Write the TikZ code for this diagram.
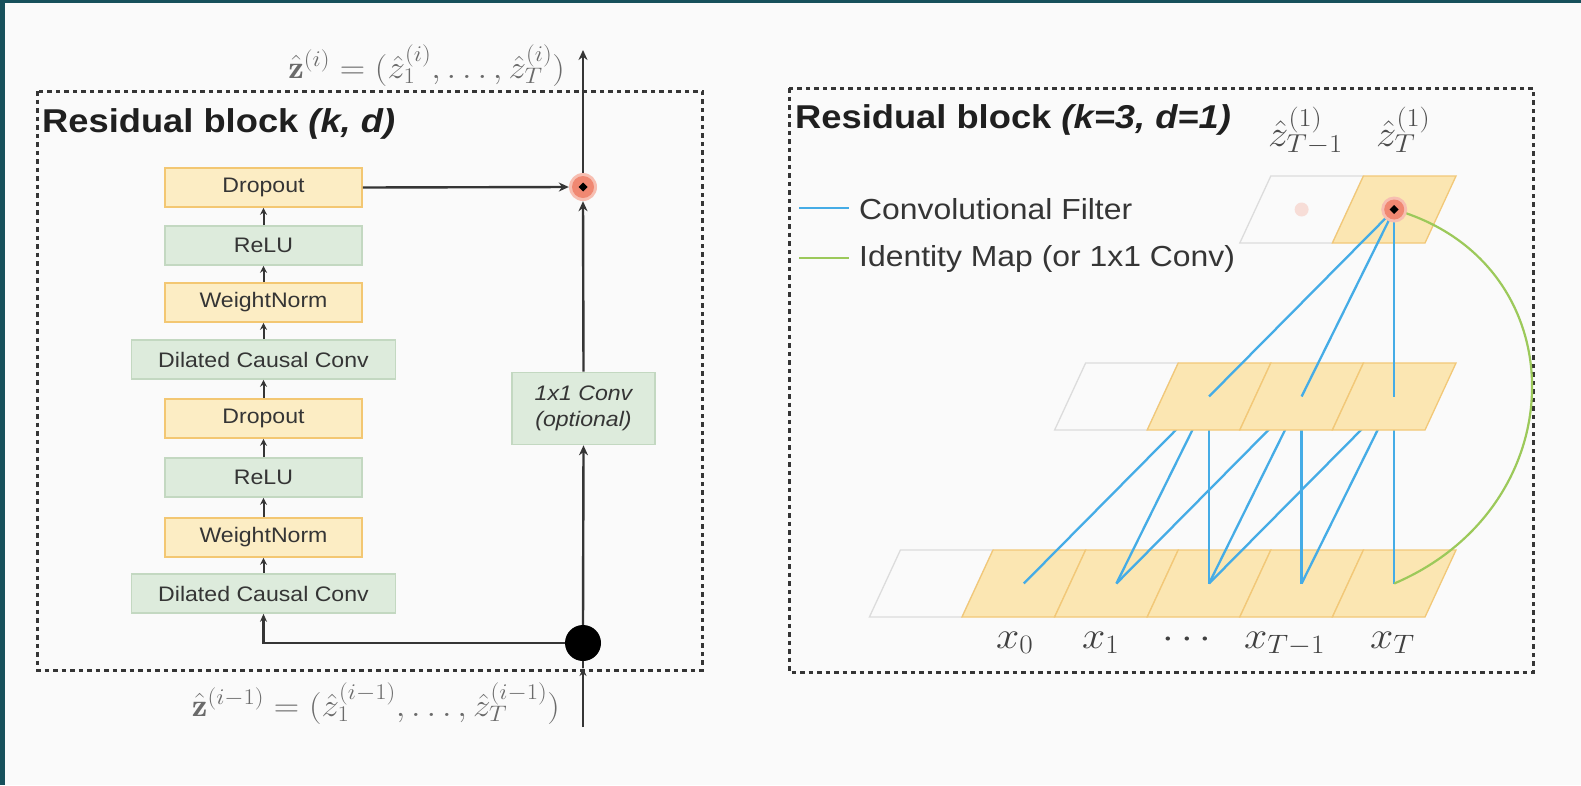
\RequirePackage{fix-cm}
\documentclass[tikz,border=0pt]{standalone}
\usepackage{fontspec}
\usepackage{graphicx}
\usetikzlibrary{arrows.meta}
\newfontfamily\hv{Liberation Sans}

\definecolor{frameteal}{HTML}{17505B}
\definecolor{paper}{HTML}{FAFAFA}
\definecolor{inkgray}{HTML}{353535}
\definecolor{boxyellow}{HTML}{FCEDC4}
\definecolor{edgeyellow}{HTML}{F3C772}
\definecolor{boxgreen}{HTML}{DDEBDC}
\definecolor{edgegreen}{HTML}{C3D8C1}
\definecolor{cellyellow}{HTML}{FBE6B2}
\definecolor{celledge}{HTML}{F2C878}
\definecolor{cellgray}{HTML}{DCDCDC}
\definecolor{filterblue}{HTML}{45ACE6}
\definecolor{identgreen}{HTML}{9CC95A}
\definecolor{sumred}{HTML}{F08872}
\definecolor{mathgray}{HTML}{6A6A6A}

% slightly widened lettering
\newcommand{\hstretch}[1]{\scalebox{1.1}[1]{#1}}

% one skewed cell of a time row: column, top y, style
\newcommand{\tcell}[3]{%
  \path[#3] ({993+92.6*#1},#2) -- ({993+92.6*(#1+1)},#2)
    -- ({993+92.6*(#1+1)-31},#2+67) -- ({993+92.6*#1-31},#2+67) -- cycle;}
% centre of a cell
\newcommand{\tcenter}[3]{\coordinate (#3) at ({993+92.6*#1+46.3-15.5},#2+33.5);}

\begin{document}
\begin{tikzpicture}[x=1pt,y=-1pt,
  blk/.style={rectangle, line width=1.6pt, minimum height=39pt, inner sep=0pt,
    text=inkgray, font=\hv\fontsize{21}{24}\selectfont},
  ylw/.style={blk, draw=edgeyellow, fill=boxyellow, minimum width=197pt},
  grn/.style={blk, draw=edgegreen, fill=boxgreen, minimum width=197pt},
  widebox/.style={minimum width=264pt},
  flow/.style={draw=inkgray, line width=2.4pt, -{Stealth[length=10pt,width=9pt]}},
  flowplain/.style={draw=inkgray, line width=2.4pt},
  tinyflow/.style={draw=inkgray, line width=2pt, -{Stealth[length=7pt,width=7pt]}},
  frame/.style={draw=inkgray, line width=3pt, dash pattern=on 4.5pt off 4pt},
  title/.style={anchor=base west, inner sep=0pt, text=black!88,
    font=\hv\bfseries\fontsize{33}{36}\selectfont},
  formula/.style={inner sep=0pt, text=mathgray, font=\fontsize{32}{36}\selectfont},
  legendtext/.style={anchor=west, inner sep=0pt, text=inkgray,
    font=\hv\fontsize{29}{32}\selectfont},
  filterline/.style={draw=filterblue, line width=2.3pt},
  identline/.style={draw=identgreen, line width=2.2pt},
  fullcell/.style={fill=cellyellow, draw=celledge, line width=1.3pt},
  emptycell/.style={draw=cellgray, line width=1.3pt},
]
\useasboundingbox (0,0) rectangle (1581,785);
\fill[paper] (0,0) rectangle (1581,785);
\fill[frameteal] (0,0) rectangle (5,785);
\fill[frameteal] (0,0) rectangle (1581,3);

% ---------------- left panel: residual block ----------------
\draw[frame] (37,91) rectangle (702,670);
\node[title] (ltitle) at (42,132) {\hstretch{Residual block \textit{(k, d)}}};

\node[ylw] (drop2) at (263.5,187.5) {\hstretch{Dropout}};
\node[grn] (relu2) at (263.5,245.5) {\hstretch{ReLU}};
\node[ylw] (wn2)   at (263.5,302.5) {\hstretch{WeightNorm}};
\node[grn,widebox] (dcc2) at (263.5,359.5) {\hstretch{Dilated Causal Conv}};
\node[ylw] (drop1) at (263.5,418.5) {\hstretch{Dropout}};
\node[grn] (relu1) at (263.5,477.5) {\hstretch{ReLU}};
\node[ylw] (wn1)   at (263.5,537.5) {\hstretch{WeightNorm}};
\node[grn,widebox] (dcc1) at (263.5,593.5) {\hstretch{Dilated Causal Conv}};

\node[grn, minimum width=143pt, minimum height=72pt, align=center,
  font=\hv\itshape\fontsize{21}{26}\selectfont] (skip) at (583.5,408.5)
  {\hstretch{1x1 Conv}\\\hstretch{(optional)}};

\node[circle, fill=black, minimum size=36pt, inner sep=0pt] (fork) at (583,643) {};
\node[circle, fill=sumred!55, minimum size=28pt, inner sep=0pt] (addhalo) at (583,187) {};
\node[circle, fill=sumred, minimum size=22pt, inner sep=0pt] (add) at (583,187) {};
\fill[black] (add.center) +(0,-4.5) -- +(4.5,0) -- +(0,4.5) -- +(-4.5,0) -- cycle;

\draw[tinyflow] (dcc1.north) -- (wn1.south);
\draw[tinyflow] (wn1.north) -- (relu1.south);
\draw[tinyflow] (relu1.north) -- (drop1.south);
\draw[tinyflow] (drop1.north) -- (dcc2.south);
\draw[tinyflow] (dcc2.north) -- (wn2.south);
\draw[tinyflow] (wn2.north) -- (relu2.south);
\draw[tinyflow] (relu2.north) -- (drop2.south);

\coordinate (zin) at (583,727);
\coordinate (zgate) at (583,668);
\coordinate (zout) at (583,50);
\draw[draw=inkgray, line width=2.4pt, -{Stealth[length=8pt,width=7pt]}] (fork.west) -| (dcc1.south);
\draw[flow] (fork.north) -- (skip.south);
\draw[flow] (skip.north) -- (addhalo.south);
\draw[flow] (drop2.east) -- (addhalo.west);
\draw[flow] (addhalo.north) -- (zout);
\draw[draw=inkgray, line width=2.2pt, -{Stealth[length=8pt,width=7pt]}] (zin) -- (zgate);
\draw[flowplain] (zgate) -- (fork.south);

\node[formula, anchor=base east] (zi) at (565,78)
  {\hstretch{$\hat{\mathbf z}^{(i)} = (\hat z_1^{(i)}, \ldots, \hat z_T^{(i)})$}};
\node[formula, anchor=base east] (zprev) at (560,716)
  {\hstretch{$\hat{\mathbf z}^{(i-1)} = (\hat z_1^{(i-1)}, \ldots, \hat z_T^{(i-1)})$}};

% ---------------- right panel: k=3, d=1 example ----------------
\draw[frame] (789,88) rectangle (1533,672);
\node[title] (rtitle) at (795,128) {\hstretch{Residual block \textit{(k=3, d=1)}}};

\coordinate (lgA) at (799,208); \coordinate (lgB) at (849,208);
\coordinate (lgC) at (799,258); \coordinate (lgD) at (849,258);
\draw[filterline] (lgA) -- (lgB);
\draw[identline] (lgC) -- (lgD);
\node[legendtext] (lgconv) at (859,209) {\hstretch{Convolutional Filter}};
\node[legendtext] (lgid) at (859,259) {\hstretch{Identity Map (or 1x1 Conv)}};

% cell centres
\foreach \j in {0,...,4} {\tcenter{\j}{550}{b\j}}
\foreach \j in {2,3,4} {\tcenter{\j}{363}{m\j}}
\tcenter{3}{176}{t3}
\tcenter{4}{176}{t4}

% input row
\tcell{-1}{550}{emptycell}
\foreach \j in {0,...,4} {\tcell{\j}{550}{fullcell}}
% filters from hidden row to inputs
\foreach \m/\lo in {2/0,3/1,4/2} {
  \foreach \k in {0,1,2} {
    \pgfmathtruncatemacro{\tgt}{\lo+\k}
    \draw[filterline] (m\m) -- (b\tgt);
  }
}
% hidden row
\tcell{1}{363}{emptycell}
\foreach \j in {2,3,4} {\tcell{\j}{363}{fullcell}}
% output row
\tcell{3}{176}{emptycell}
\tcell{4}{176}{fullcell}
% filters from output to hidden row
\foreach \j in {2,3,4} {\draw[filterline] (t4) -- (m\j);}
% identity skip
\draw[identline] (t4) .. controls (1578,262) and (1578,505) .. (b4);

\fill[sumred, opacity=0.25] (t3) circle (7pt);
\node[circle, fill=sumred!55, minimum size=26pt, inner sep=0pt] (addRhalo) at (t4) {};
\node[circle, fill=sumred, minimum size=20pt, inner sep=0pt] (addR) at (t4) {};
\fill[black] (t4) +(0,-4.5) -- +(4.5,0) -- +(0,4.5) -- +(-4.5,0) -- cycle;

\node[formula, anchor=base west, text=black!70, font=\fontsize{37}{40}\selectfont] (zTm1) at (1268,146)
  {\hstretch{$\hat z^{(1)}_{T-1}$}};
\node[formula, anchor=base west, text=black!70, font=\fontsize{37}{40}\selectfont] (zT) at (1376,146)
  {\hstretch{$\hat z^{(1)}_{T}$}};

\begin{scope}[every node/.style={inner sep=0pt, text=black!75,
    font=\fontsize{38}{40}\selectfont}]
  \node[anchor=base west] (x0) at (996,648) {\hstretch{$x_0$}};
  \node[anchor=base west] (x1) at (1082,648) {\hstretch{$x_1$}};
  \node[anchor=base] (xdots) at (1187,648) {\hstretch{$\cdots$}};
  \node[anchor=base west] (xTm1) at (1244,648) {\hstretch{$x_{T-1}$}};
  \node[anchor=base west] (xT) at (1370,648) {\hstretch{$x_T$}};
\end{scope}
\end{tikzpicture}
\end{document}
